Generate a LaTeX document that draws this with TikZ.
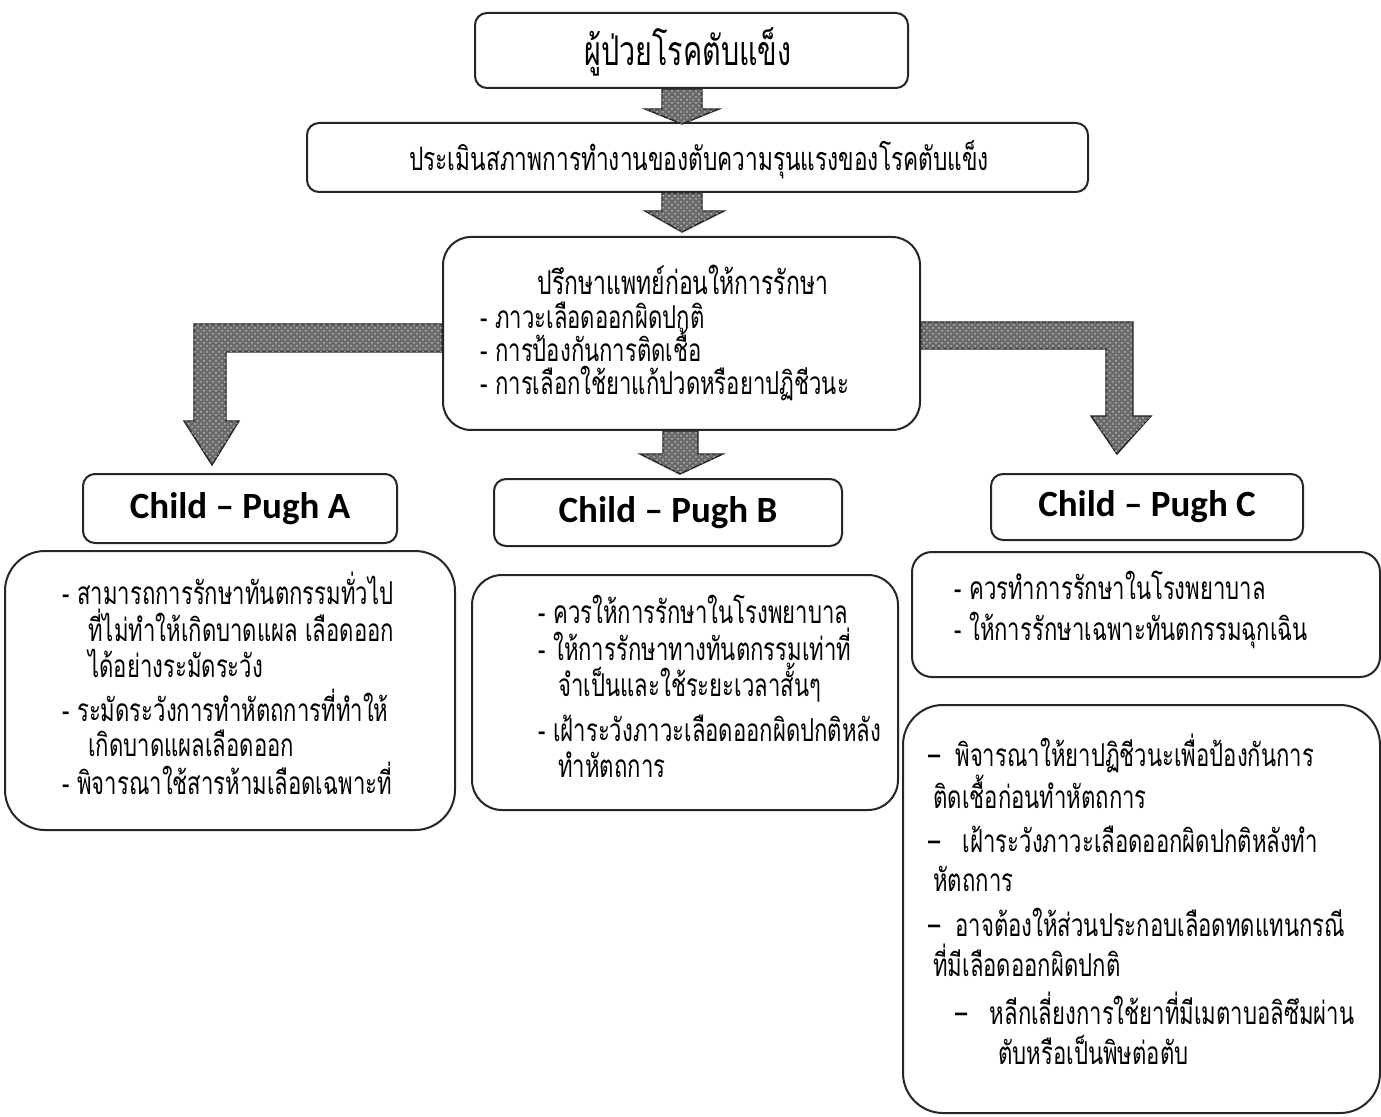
\documentclass[tikz,border=0pt]{standalone}
\usepackage{fontspec}
\newfontfamily\thai[Script=Thai,FakeStretch=0.70]{Loma}
\newfontfamily\cpfont{Carlito}
\usetikzlibrary{calc,patterns}
\begin{document}
\begin{tikzpicture}[x=0.5pt,y=-0.5pt,
  box/.style={draw=black!85, line width=1pt, rounded corners=#1, inner sep=0pt},
  box/.default=6pt,
  txt/.style={font=\thai\fontsize{15.8}{18}\selectfont, inner sep=0pt, anchor=mid west},
  fat/.style={draw=black!85, line width=0.7pt, fill=black!58,
    postaction={pattern=crosshatch dots, pattern color=white!70!black}},
  cp/.style={font=\cpfont\bfseries\fontsize{18.5}{20}\selectfont}]
\useasboundingbox[fill=white] (0,0) rectangle (1381,1117);

% boxes
\node[box, minimum width=216.5pt, minimum height=37.5pt] (b1) at (691.5,50.5) {};
\node[font=\thai\fontsize{20.5}{22}\selectfont, inner sep=0pt] (t1) at (688,52) {ผู้ป่วยโรคตับแข็ง};
\node[box, minimum width=390.5pt, minimum height=34.5pt] (b2) at (697.5,157.5) {};
\node[font=\thai\fontsize{16.2}{18}\selectfont, inner sep=0pt] (t2) at (699,160) {ประเมินสภาพการทำงานของตับความรุนแรงของโรคตับแข็ง};
\node[box=14pt, minimum width=238.5pt, minimum height=96.5pt] (b3) at (681.5,333.5) {};
\node[font=\thai\fontsize{16.4}{18}\selectfont, inner sep=0pt] (t3) at (683,280) {ปรึกษาแพทย์ก่อนให้การรักษา};
\foreach \x/\y/\t [count=\i] in {480/324/{- ภาวะเลือดออกผิดปกติ}, 480/357/{- การป้องกันการติดเชื้อ}, 480/390/{- การเลือกใช้ยาแก้ปวดหรือยาปฏิชีวนะ}}
  \node[txt] (l3\i) at (\x,\y) {\t};

\node[box, minimum width=157pt, minimum height=34.5pt, cp] (ha) at (240,508.5) {Child – Pugh A};
\node[box, minimum width=174pt, minimum height=33.5pt, cp] (hb) at (668,512.5) {Child – Pugh B};
\node[box, minimum width=156pt, minimum height=33pt, cp] (hc) at (1147,507) {Child – Pugh C};

\node[box=20pt, minimum width=225pt, minimum height=139.5pt] (da) at (230,690.5) {};
\foreach \x/\y/\t [count=\i] in {62/600/{- สามารถการรักษาทันตกรรมทั่วไป}, 88/637/{ที่ไม่ทำให้เกิดบาดแผล เลือดออก}, 88/673/{ได้อย่างระมัดระวัง}, 62/717/{- ระมัดระวังการทำหัตถการที่ทำให้}, 88/752/{เกิดบาดแผลเลือดออก}, 62/790/{- พิจารณาใช้สารห้ามเลือดเฉพาะที่}}
  \node[txt] (la\i) at (\x,\y) {\t};

\node[box=15pt, minimum width=213pt, minimum height=117.5pt] (db) at (685,692.5) {};
\foreach \x/\y/\t [count=\i] in {538/619/{- ควรให้การรักษาในโรงพยาบาล}, 538/656/{- ให้การรักษาทางทันตกรรมเท่าที่}, 558/692/{จำเป็นและใช้ระยะเวลาสั้นๆ}, 538/737/{- เฝ้าระวังภาวะเลือดออกผิดปกติหลัง}, 558/773/{ทำหัตถการ}}
  \node[txt] (lb\i) at (\x,\y) {\t};

\node[box=10pt, minimum width=234pt, minimum height=62.5pt] (dc1) at (1146,614.5) {};
\foreach \x/\y/\t [count=\i] in {954/595/{- ควรทำการรักษาในโรงพยาบาล}, 954/636/{- ให้การรักษาเฉพาะทันตกรรมฉุกเฉิน}}
  \node[txt] (lc\i) at (\x,\y) {\t};

\node[box=20pt, minimum width=238.5pt, minimum height=204pt] (dc2) at (1141.5,909) {};
\foreach \x/\y/\t [count=\i] in {928/762/{–\ \ พิจารณาให้ยาปฏิชีวนะเพื่อป้องกันการ}, 933/804/{ติดเชื้อก่อนทำหัตถการ}, 928/848/{–\ \ \ เฝ้าระวังภาวะเลือดออกผิดปกติหลังทำ}, 933/887/{หัตถการ}, 928/932/{–\ \ อาจต้องให้ส่วนประกอบเลือดทดแทนกรณี}, 933/972/{ที่มีเลือดออกผิดปกติ}, 955/1020/{–\ \ \ หลีกเลี่ยงการใช้ยาที่มีเมตาบอลิซึมผ่าน}, 998/1060/{ตับหรือเป็นพิษต่อตับ}}
  \node[txt] (ld\i) at (\x,\y) {\t};

% arrows
\coordinate (m) at (682,0);
\coordinate (mc) at (680,0);
\draw[fat] ($(m|-b1.south)+(-20,0)$) -- ++(0,20) -- ++(-17,0) -- ($(m|-b2.north)+(0,2)$)
  -- ($(m|-b1.south)+(37,20)$) -- ++(-17,0) -- ($(m|-b1.south)+(20,0)$) -- cycle;
\draw[fat] ($(m|-b2.south)+(-20,0)$) -- ++(0,18) -- ++(-17,0) -- ($(m|-b3.north)+(0,-4)$)
  -- ($(m|-b2.south)+(42,18)$) -- ++(-22,0) -- ($(m|-b2.south)+(20,0)$) -- cycle;
\draw[fat] ($(mc|-b3.south)+(-17,0)$) -- ++(0,23) -- ++(-23,0) -- ($(mc|-hb.north)+(0,-4)$)
  -- ($(mc|-b3.south)+(43,23)$) -- ++(-25,0) -- ($(mc|-b3.south)+(18,0)$) -- cycle;
% left elbow
\coordinate (p0) at ($(b3.north west)+(0,88)$);
\draw[fat] (p0) -- ++(-248,0) -- ++(0,97) -- ++(-10,0) -- ($(ha.north)+(-28,-8)$)
  -- ($(p0)+(-203,97)$) -- ++(-13,0) -- ++(0,-69) -- ($(p0)+(0,28)$) -- cycle;
% right elbow
\coordinate (p1) at ($(b3.north east)+(0,86)$);
\draw[fat] (p1) -- ++(212,0) -- ++(0,94) -- ++(18,0) -- ($(hc.north)+(-30,-19)$)
  -- ($(p1)+(170,94)$) -- ++(15,0) -- ++(0,-67) -- ($(p1)+(0,27)$) -- cycle;
\end{tikzpicture}
\end{document}
